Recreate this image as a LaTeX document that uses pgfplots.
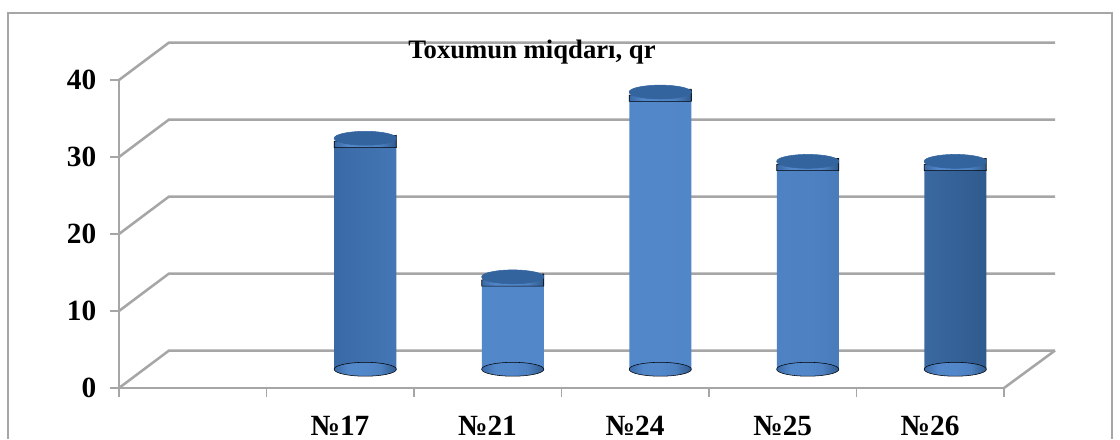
\documentclass[border=0pt]{standalone}
\usepackage{pgfplots}
\usepackage{pgfplotstable}
\usepackage{fontspec}
\setmainfont{Liberation Serif}
\pgfplotsset{compat=1.18}
\definecolor{gridg}{HTML}{A6A6A6}
\definecolor{cylE}{HTML}{2F5B8E}
\definecolor{cylL}{HTML}{3A6AA6}
\definecolor{cylM}{HTML}{5287CA}
\definecolor{cylTop}{HTML}{33649E}
\pgfdeclarehorizontalshading{cyl}{100bp}{color(0bp)=(cylL); color(25bp)=(cylL); color(36bp)=(cylM); color(50bp)=(cylM); color(62bp)=(cylM!85!cylE); color(75bp)=(cylE); color(100bp)=(cylE)}
\pgfdeclareplotmark{cyltop}{%
  \shade[shading=cyl,shading angle=0] (-23.25pt,-7pt) -- (23.25pt,-7pt) -- (23.25pt,2.25pt) -- (-23.25pt,-2.25pt) -- cycle;
  \fill[cylTop,rotate=5.5] (0,0) ellipse (23.35pt and 5.2pt);
}
\pgfdeclareplotmark{cylbase}{%
  \shade[shading=cyl,shading angle=0,rotate=5.5] (0,0) ellipse (23.35pt and 5.2pt);
}
\pgfplotstableread{
x   v
1.5 30
2.5 12
3.5 36
4.5 27
5.5 27
}\seedtable
\begin{document}
\begin{tikzpicture}[x=1pt,y=1pt]
\path[use as bounding box] (0,0) rectangle (840,329.25);
\draw[gridg,line width=1.4pt] (6,0) -- (6,319.5) -- (834,319.5) -- (834,0);
\begin{axis}[
  at={(89.25pt,38.25pt)},anchor=south west,
  scale only axis,width=663.75pt,height=231pt,
  xmin=0,xmax=6,ymin=0,ymax=40,
  clip=false,
  axis x line*=bottom,axis y line*=left,
  axis line style={gridg,line width=1.9pt,-},
  xtick={1,...,5},
  xticklabels={},
  extra x ticks={0,6},extra x tick labels={},
  major tick style={gridg,line width=1.3pt},
  major tick length=6.5pt,
  tick align=outside,
  ytick={0,10,20,30,40},
  yticklabel style={font=\fontsize{22}{24}\selectfont\bfseries,xshift=-7pt},
  /pgf/number format/assume math mode=true,
]
\pgfplotsinvokeforeach{0,10,20,30,40}{
  \draw[gridg,line width=1.9pt] (axis cs:0,#1) -- ++(37.5pt,28.1pt) -- ++(664.5pt,0pt);
}
\draw[gridg,line width=1.9pt] (axis cs:6,0) -- ++(38.25pt,28.1pt);
\end{axis}
\begin{axis}[
  at={(108pt,52.3pt)},anchor=south west,
  scale only axis,width=663.75pt,height=231pt,
  xmin=0,xmax=6,ymin=0,ymax=40,
  clip=false,hide axis,
]
\addplot[only marks,mark=cylbase] table[x=x,y expr=0] {\seedtable};
\addplot[ybar,bar shift=0pt,bar width=46.5pt,draw=none,shading=cyl,shading angle=0] table[x=x,y expr=\thisrow{v}-1] {\seedtable};
\addplot[only marks,mark=cyltop] table[x=x,y=v] {\seedtable};
\end{axis}
\node[font=\fontsize{20}{22}\selectfont\bfseries] at (399,290.5) {Toxumun miqdarı, qr};
\foreach \xx/\lab in {255/№17,365.6/№21,476.3/№24,587/№25,697.5/№26}
  \node[font=\fontsize{22}{24}\selectfont\bfseries] at (\xx,10) {\lab};
\end{tikzpicture}
\end{document}
